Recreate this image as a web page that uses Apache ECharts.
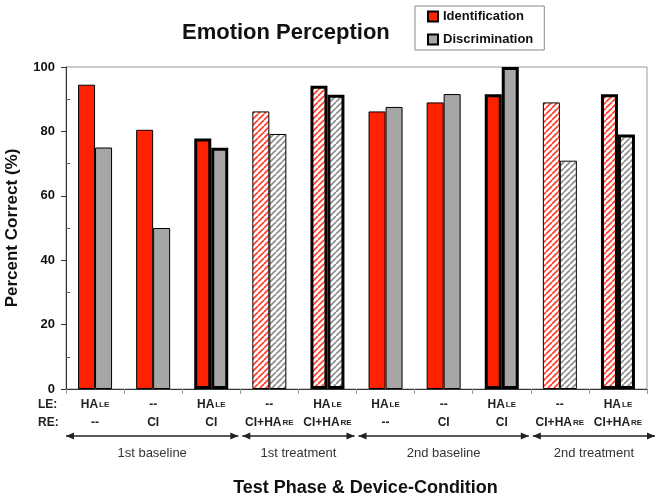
<!DOCTYPE html>
<html><head><meta charset="utf-8">
<script src="https://cdn.jsdelivr.net/npm/echarts@6/dist/echarts.min.js"></script>
<style>html,body{margin:0;padding:0;background:#fff}#c{width:667px;height:496px}</style>
</head><body><div id="c"></div>
<script>
// ---- data ----
const leDevice = ['HA', '--', 'HA', '--', 'HA', 'HA', '--', 'HA', '--', 'HA'];
const reDevice = ['--', 'CI', 'CI', 'CI+HA', 'CI+HA', '--', 'CI', 'CI', 'CI+HA', 'CI+HA'];
const identification = [94.5, 80.5, 77.8, 86.2, 94.2, 86.2, 89.0, 91.5, 89.0, 91.5];
const discrimination = [75.0, 50.0, 74.9, 79.2, 91.4, 87.6, 91.6, 100.0, 70.9, 79.0];
const yTicks = [0, 20, 40, 60, 80, 100];
const yMinorTicks = [10, 30, 50, 70, 90];
const phaseNames = ['1st baseline', '1st treatment', '2nd baseline', '2nd treatment'];
const phaseSpans = [[0, 3], [3, 5], [5, 8], [8, 10]];
const conditionKind = ['plain', 'plain', 'bold', 'hatch', 'hatchBold', 'plain', 'plain', 'bold', 'hatch', 'hatchBold'];

// ---- styling ----
const FONT = '"Liberation Sans", Arial, Helvetica, sans-serif';
const RED = '#ff2200', GRAY = '#a6a6a6';
function hatch(color) {
  const s = 6, cv = document.createElement('canvas');
  cv.width = s; cv.height = s;
  const ctx = cv.getContext('2d');
  ctx.fillStyle = '#fff'; ctx.fillRect(0, 0, s, s);
  ctx.strokeStyle = color; ctx.lineWidth = 1.6;
  for (const k of [-s, 0, s]) { ctx.beginPath(); ctx.moveTo(k, s); ctx.lineTo(k + s, 0); ctx.stroke(); }
  return { image: cv, repeat: 'repeat' };
}
const hatchRed = hatch('#ff3a26'), hatchGray = hatch('#8c8c8c');
function items(values, solid, pattern) {
  return values.map((v, i) => {
    const k = conditionKind[i];
    const hatched = k.indexOf('hatch') === 0;
    const bold = k === 'bold' || k === 'hatchBold';
    return { value: v, itemStyle: { color: hatched ? pattern : solid, borderColor: '#000', borderWidth: bold ? 3 : 1 } };
  });
}
const categories = leDevice.map((l, i) => l + ' / ' + reDevice[i]);

const chart = echarts.init(document.getElementById('c'));
chart.setOption({
  animation: false,
  backgroundColor: '#fff',
  title: {
    text: 'Emotion Perception', left: 182, top: 22, padding: 0,
    textStyle: { fontFamily: FONT, fontSize: 22, fontWeight: 'bold', color: '#111' }
  },
  legend: {
    orient: 'vertical', left: 415, top: 6, padding: [4, 11, 4, 12], itemGap: 10,
    itemWidth: 10, itemHeight: 10, icon: 'rect',
    borderColor: '#888', borderWidth: 1,
    textStyle: { fontFamily: FONT, fontSize: 13, fontWeight: 'bold', color: '#111' },
    data: ['Identification', 'Discrimination']
  },
  grid: { left: 66, right: 20, top: 67, bottom: 107, show: true, borderColor: '#999', borderWidth: 1, containLabel: false, outerBoundsMode: 'none' },
  xAxis: {
    type: 'category', data: categories,
    axisLine: { lineStyle: { color: '#333', width: 1 } },
    axisTick: { show: true, alignWithLabel: false, length: 5, lineStyle: { color: '#999' } },
    axisLabel: {
      interval: 0, margin: 7,
      formatter: (v, i) => {
        const le = leDevice[i] === 'HA' ? '{m|HA}{s|LE}' : '{m|--}';
        const re = reDevice[i] === 'CI+HA' ? '{m|CI+HA}{s|RE}' : '{m|' + reDevice[i] + '}';
        return le + '\n' + re;
      },
      rich: {
        m: { fontFamily: FONT, fontSize: 12, fontWeight: 'bold', color: '#222', lineHeight: 18 },
        s: { fontFamily: FONT, fontSize: 8, fontWeight: 'bold', color: '#222', lineHeight: 18, padding: [0, 0, 0, 1] }
      }
    },
    name: 'Test Phase & Device-Condition', nameLocation: 'middle', nameGap: 90,
    nameTextStyle: { fontFamily: FONT, fontSize: 18, fontWeight: 'bold', color: '#111', padding: [0, 0, 0, 18] }
  },
  yAxis: [{
    type: 'value', min: yTicks[0], max: yTicks[yTicks.length - 1], interval: yTicks[1] - yTicks[0],
    axisLine: { show: true, lineStyle: { color: '#333' } },
    axisTick: { show: true, length: 5, lineStyle: { color: '#333' } },
    axisLabel: { margin: 11, fontFamily: FONT, fontSize: 13, fontWeight: 'bold', color: '#111' },
    splitLine: { show: false },
    name: 'Percent Correct (%)', nameLocation: 'middle', nameGap: 45,
    nameTextStyle: { fontFamily: FONT, fontSize: 17, fontWeight: 'bold', color: '#111' }
  }, {
    type: 'value', position: 'left', min: yTicks[0], max: yTicks[yTicks.length - 1], interval: yMinorTicks[1] - yMinorTicks[0],
    axisLine: { show: false }, axisLabel: { show: false }, splitLine: { show: false },
    axisTick: { show: true, inside: true, length: 4, customValues: yMinorTicks, lineStyle: { color: '#555' } }
  }],
  series: [{
    name: 'Identification', type: 'bar', barWidth: 17, barGap: '0%',
    itemStyle: { color: RED, borderColor: '#000', borderWidth: 1 },
    data: items(identification, RED, hatchRed)
  }, {
    name: 'Discrimination', type: 'bar', barWidth: 17, barGap: '0%',
    itemStyle: { color: GRAY, borderColor: '#000', borderWidth: 1 },
    data: items(discrimination, GRAY, hatchGray)
  }]
});

// ---- annotation row: LE/RE captions, phase arrows & names ----
const c0 = chart.convertToPixel({ xAxisIndex: 0 }, 0);
const c1 = chart.convertToPixel({ xAxisIndex: 0 }, 1);
const band = c1 - c0;
const boundary = k => c0 - band / 2 + k * band;
const baseY = chart.convertToPixel({ yAxisIndex: 0 }, 0);
const arrowY = baseY + 47, labelY = baseY + 64;
const g = [];
['LE:', 'RE:'].forEach((t, j) => g.push({
  type: 'text', x: 38, y: baseY + 16 + j * 18,
  style: { text: t, fontFamily: FONT, fontSize: 12, fontWeight: 'bold', fill: '#222', align: 'left', verticalAlign: 'middle' }
}));
phaseSpans.forEach(([a, b], j) => {
  const x1 = boundary(a) + (a === 0 ? 0 : 2);
  const x2 = boundary(b) + (b === leDevice.length ? 8 : -2);
  g.push({ type: 'line', shape: { x1, y1: arrowY, x2, y2: arrowY }, style: { stroke: '#222', lineWidth: 1.5 } });
  g.push({ type: 'polygon', shape: { points: [[x1, arrowY], [x1 + 8, arrowY - 3.5], [x1 + 8, arrowY + 3.5]] }, style: { fill: '#222' } });
  g.push({ type: 'polygon', shape: { points: [[x2, arrowY], [x2 - 8, arrowY - 3.5], [x2 - 8, arrowY + 3.5]] }, style: { fill: '#222' } });
  g.push({
    type: 'text', x: (x1 + x2) / 2, y: labelY,
    style: { text: phaseNames[j], fontFamily: FONT, fontSize: 13, fill: '#333', align: 'center', verticalAlign: 'middle' }
  });
});
chart.setOption({ graphic: g });
</script>
</body></html>
